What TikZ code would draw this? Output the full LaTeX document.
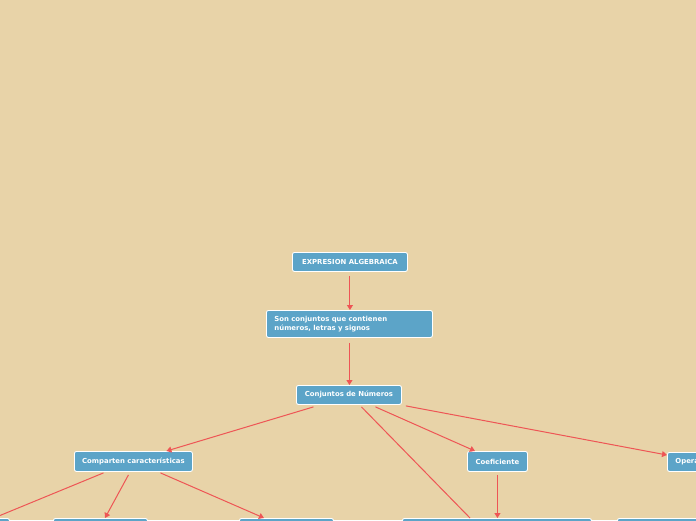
\documentclass[tikz,border=0pt]{standalone}
\usepackage{fontspec}
\setmainfont{DejaVu Sans}
\usetikzlibrary{calc,arrows.meta}
\definecolor{bg}{HTML}{E8D3A8}
\definecolor{boxfill}{HTML}{5CA4C8}
\definecolor{linec}{HTML}{EE5555}
\tikzset{
  box/.style={draw=white, line width=0.9pt, fill=boxfill, rounded corners=2pt,
    text=white, font=\fontsize{6.9}{9}\selectfont\bfseries, inner sep=0pt,
    anchor=north west, align=center},
  conn/.style={draw=linec, line width=1pt},
  arr/.style={conn, -{Triangle[length=5pt,width=6pt]}}
}
\begin{document}
\begin{tikzpicture}[x=1pt,y=-1pt]
\fill[bg] (0,0) rectangle (696,520);
\useasboundingbox (0,0) rectangle (696,520);
\node[box, minimum width=115pt, minimum height=19pt] (n1) at (292,252) {EXPRESION ALGEBRAICA};
\node[box, minimum width=166pt, minimum height=27pt, align=left, text width=150pt, inner xsep=8pt] (n2) at (266,310) {Son conjuntos que contienen\\números, letras y signos};
\node[box, minimum width=105pt, minimum height=19pt] (n3) at (296,385) {Conjuntos de Números};
\node[box, minimum width=118pt, minimum height=20pt] (n4) at (74,451) {Comparten características};
\node[box, minimum width=60pt, minimum height=20pt] (n5) at (467,451) {Coeficiente};
\node[box, minimum width=80pt, minimum height=19pt, text width=72pt, align=left, inner xsep=8pt] (n6) at (667,452) {Opera};
\node[box, minimum width=70pt, minimum height=24pt] (b1) at (-61,518) {};
\node[box, minimum width=94pt, minimum height=24pt] (b2) at (53,518) {};
\node[box, minimum width=94pt, minimum height=24pt] (b3) at (239,518) {};
\node[box, minimum width=189pt, minimum height=24pt] (b4) at (402,518) {};
\node[box, minimum width=100pt, minimum height=24pt] (b5) at (617,518) {};
\draw[arr] ($(n1.south)+(0,4)$) -- (n1.south |- n2.north);
\draw[arr] ($(n2.south)+(0,5)$) -- (n2.south |- n3.north);
\draw[arr] ($(n3.south)+(-35.5,2)$) -- ($(n4.north)+(33,0)$);
\draw[conn] ($(n3.south)+(12.5,2)$) -- ($(b4.north west)+(68,0)$);
\draw[arr] ($(n3.south)+(26.5,2)$) -- ($(n5.north west)+(8,0)$);
\draw[arr] ($(n3.south east)+(4,1)$) -- ($(n6.north west)+(0,3)$);
\draw[conn] ($(n4.south)+(-30,1)$) -- ($(b1.north east)+(-16,0)$);
\draw[arr] ($(n4.south)+(-5,3)$) -- ($(b2.north west)+(52,0)$);
\draw[conn] ($(n4.south)+(1,3)$) -- ($(n4.south)+(1,3)$ |- b2.north);
\draw[arr] ($(n4.south)+(27,1)$) -- ($(b3.north west)+(25,0)$);
\draw[arr] ($(n5.south)+(0,3)$) -- (n5.south |- b4.north);
\end{tikzpicture}
\end{document}
